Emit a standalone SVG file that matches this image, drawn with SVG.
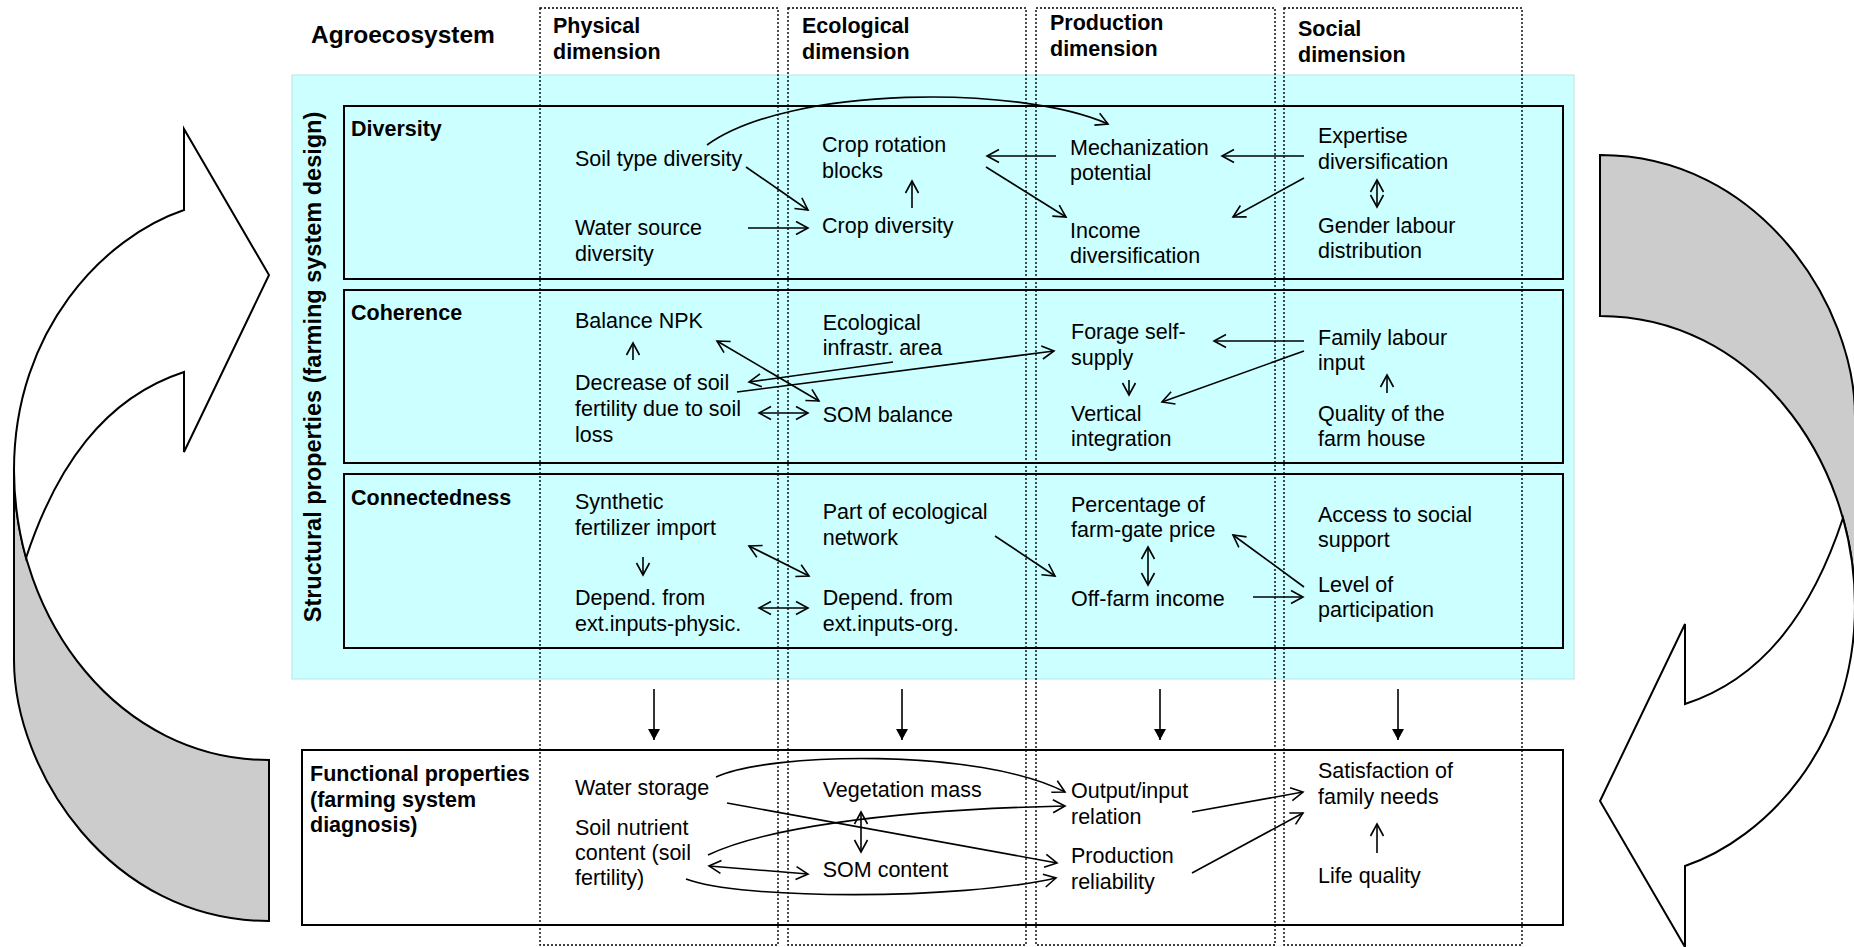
<svg xmlns="http://www.w3.org/2000/svg" width="1854" height="947" viewBox="0 0 1854 947">
<defs>
<style>
.t{font-family:"Liberation Sans",Arial,sans-serif;font-size:21.5px;fill:#000}
.b{font-family:"Liberation Sans",Arial,sans-serif;font-size:21.5px;font-weight:bold;fill:#000}
.b.title{font-size:24.5px}
.b.vert{font-size:23.5px}
.box{fill:none;stroke:#000;stroke-width:2}
.col{fill:none;stroke:#000;stroke-width:1.4;stroke-dasharray:2 2}
.c{fill:none;stroke:#000;stroke-width:1.6}
.a{marker-end:url(#open)}
.d{marker-start:url(#open);marker-end:url(#open)}
.bigarrow{stroke:#000;stroke-width:2;stroke-linejoin:miter}
</style>
<marker id="open" viewBox="-14 -9 16 18" refX="0" refY="0" markerWidth="16" markerHeight="18" markerUnits="userSpaceOnUse" orient="auto-start-reverse">
<path d="M-12,-6.5 L0,0 L-12,6.5" fill="none" stroke="#000" stroke-width="1.6"/>
</marker>
<marker id="solid" viewBox="-12 -7 13 14" refX="0" refY="0" markerWidth="13" markerHeight="14" markerUnits="userSpaceOnUse" orient="auto">
<path d="M-11,-6 L0,0 L-11,6 Z" fill="#000"/>
</marker>
</defs>
<rect width="1854" height="947" fill="#fff"/>

<g id="cycle-left">
<path class="bigarrow" fill="#CCCCCC" d="M14,470 L14,660 C14,770 109,921 269,921 L269,760 C119,760 14,620 14,470 Z"/>
<path class="bigarrow" fill="#fff" d="M184,210 L184,129 L269,275 L184,452 L184,372 C104,398 56,467 26,558 C18.2,529.6 14,500 14,470 C14,330 104,237 184,210 Z"/>
</g>
<g id="cycle-right" transform="rotate(180 934.5 538)">
<path class="bigarrow" fill="#CCCCCC" d="M14,470 L14,660 C14,770 109,921 269,921 L269,760 C119,760 14,620 14,470 Z"/>
<path class="bigarrow" fill="#fff" d="M184,210 L184,129 L269,275 L184,452 L184,372 C104,398 56,467 26,558 C18.2,529.6 14,500 14,470 C14,330 104,237 184,210 Z"/>
</g>

<g id="structural">
<rect x="292" y="75" width="1282" height="604" fill="#CCFFFF" stroke="#B5E5E5" stroke-width="1"/>
<text class="b vert" transform="translate(321 367) rotate(-90)" text-anchor="middle">Structural properties (farming system design)</text>
</g>
<g id="row-diversity">
<rect class="box" x="344" y="106" width="1219" height="173"/>
<text class="b" x="351" y="136">Diversity</text>
</g>
<g id="row-coherence">
<rect class="box" x="344" y="290" width="1219" height="173"/>
<text class="b" x="351" y="320">Coherence</text>
</g>
<g id="row-connectedness">
<rect class="box" x="344" y="474" width="1219" height="174"/>
<text class="b" x="351" y="505">Connectedness</text>
</g>
<g id="functional">
<rect class="box" x="302" y="750" width="1261" height="175"/>
<text class="b"><tspan x="310" y="781">Functional properties</tspan><tspan x="310" y="807">(farming system</tspan><tspan x="310" y="832">diagnosis)</tspan></text>
</g>

<g id="title"><text class="b title" x="311" y="43">Agroecosystem</text></g>
<g id="col-physical">
<rect class="col" x="540" y="8" width="238" height="937"/>
<text class="b"><tspan x="553" y="33">Physical</tspan><tspan x="553" y="59">dimension</tspan></text>
</g>
<g id="col-ecological">
<rect class="col" x="788" y="8" width="238" height="937"/>
<text class="b"><tspan x="802" y="33">Ecological</tspan><tspan x="802" y="59">dimension</tspan></text>
</g>
<g id="col-production">
<rect class="col" x="1036" y="8" width="239" height="937"/>
<text class="b"><tspan x="1050" y="29.5">Production</tspan><tspan x="1050" y="55.5">dimension</tspan></text>
</g>
<g id="col-social">
<rect class="col" x="1284" y="8" width="238" height="937"/>
<text class="b"><tspan x="1298" y="36">Social</tspan><tspan x="1298" y="61.5">dimension</tspan></text>
</g>

<g id="connectors">
<path class="c a" d="M707,145 C790,85 1020,85 1108,124"/>
<line class="c a" x1="746" y1="167" x2="808" y2="210"/>
<line class="c a" x1="748" y1="228" x2="808" y2="228"/>
<line class="c a" x1="912" y1="208" x2="912" y2="181"/>
<line class="c a" x1="1056" y1="156" x2="987" y2="156"/>
<line class="c a" x1="986" y1="167" x2="1066" y2="217"/>
<line class="c a" x1="1304" y1="156" x2="1222" y2="156"/>
<line class="c a" x1="1304" y1="178" x2="1233" y2="217"/>
<line class="c d" x1="1377" y1="180" x2="1377" y2="207"/>
<line class="c a" x1="633" y1="360" x2="633" y2="343"/>
<line class="c d" x1="717" y1="341" x2="819" y2="401"/>
<line class="c a" x1="893" y1="362" x2="749" y2="382"/>
<line class="c a" x1="737" y1="392" x2="1054" y2="351"/>
<line class="c d" x1="759" y1="413" x2="808" y2="413"/>
<line class="c a" x1="1304" y1="341" x2="1214" y2="341"/>
<line class="c a" x1="1304" y1="351" x2="1162" y2="402"/>
<line class="c a" x1="1129" y1="380" x2="1129" y2="395"/>
<line class="c a" x1="1387" y1="393" x2="1387" y2="375"/>
<line class="c a" x1="643" y1="557" x2="643" y2="575"/>
<line class="c d" x1="749" y1="546" x2="809" y2="576"/>
<line class="c d" x1="759" y1="608" x2="808" y2="608"/>
<line class="c a" x1="995" y1="536" x2="1055" y2="576"/>
<line class="c d" x1="1148" y1="547" x2="1148" y2="585"/>
<line class="c a" x1="1253" y1="597" x2="1303" y2="597"/>
<line class="c a" x1="1304" y1="587" x2="1233" y2="535"/>
<path class="c a" d="M716,777 C770,752 980,748 1065,792"/>
<line class="c a" x1="727" y1="803" x2="1057" y2="863"/>
<path class="c a" d="M708,855 C760,830 880,810 1065,806"/>
<line class="c d" x1="709" y1="866" x2="808" y2="874"/>
<path class="c a" d="M686,879 C740,900 960,900 1056,878"/>
<line class="c d" x1="861" y1="812" x2="861" y2="852"/>
<line class="c a" x1="1192" y1="812" x2="1303" y2="792"/>
<line class="c a" x1="1192" y1="873" x2="1303" y2="813"/>
<line class="c a" x1="1377" y1="853" x2="1377" y2="824"/>
<line class="c" x1="654" y1="689" x2="654" y2="740" marker-end="url(#solid)"/>
<line class="c" x1="902" y1="689" x2="902" y2="740" marker-end="url(#solid)"/>
<line class="c" x1="1160" y1="689" x2="1160" y2="740" marker-end="url(#solid)"/>
<line class="c" x1="1398" y1="689" x2="1398" y2="740" marker-end="url(#solid)"/>
</g>

<g id="n-soil-type"><text class="t" x="575" y="166">Soil type diversity</text></g>
<g id="n-water-source"><text class="t"><tspan x="575" y="235">Water source</tspan><tspan x="575" y="261">diversity</tspan></text></g>
<g id="n-crop-rotation"><text class="t"><tspan x="822" y="152">Crop rotation</tspan><tspan x="822" y="177.5">blocks</tspan></text></g>
<g id="n-crop-diversity"><text class="t" x="822" y="233">Crop diversity</text></g>
<g id="n-mechanization"><text class="t"><tspan x="1070" y="155">Mechanization</tspan><tspan x="1070" y="180">potential</tspan></text></g>
<g id="n-income-div"><text class="t"><tspan x="1070" y="237.5">Income</tspan><tspan x="1070" y="263">diversification</tspan></text></g>
<g id="n-expertise"><text class="t"><tspan x="1318" y="142.5">Expertise</tspan><tspan x="1318" y="168.5">diversification</tspan></text></g>
<g id="n-gender"><text class="t"><tspan x="1318" y="232.5">Gender labour</tspan><tspan x="1318" y="258">distribution</tspan></text></g>

<g id="n-balance-npk"><text class="t" x="575" y="327.5">Balance NPK</text></g>
<g id="n-decrease"><text class="t"><tspan x="575" y="390">Decrease of soil</tspan><tspan x="575" y="416">fertility due to soil</tspan><tspan x="575" y="442">loss</tspan></text></g>
<g id="n-eco-infra"><text class="t"><tspan x="822.7" y="329.5">Ecological</tspan><tspan x="822.7" y="354.5">infrastr. area</tspan></text></g>
<g id="n-som-balance"><text class="t" x="822.7" y="422">SOM balance</text></g>
<g id="n-forage"><text class="t"><tspan x="1071" y="338.5">Forage self-</tspan><tspan x="1071" y="364.5">supply</tspan></text></g>
<g id="n-vertical"><text class="t"><tspan x="1071" y="421">Vertical</tspan><tspan x="1071" y="446">integration</tspan></text></g>
<g id="n-family-labour"><text class="t"><tspan x="1318" y="345">Family labour</tspan><tspan x="1318" y="370">input</tspan></text></g>
<g id="n-quality-house"><text class="t"><tspan x="1318" y="420.5">Quality of the</tspan><tspan x="1318" y="446">farm house</tspan></text></g>

<g id="n-synthetic"><text class="t"><tspan x="575" y="509">Synthetic</tspan><tspan x="575" y="535">fertilizer import</tspan></text></g>
<g id="n-depend-phys"><text class="t"><tspan x="575" y="604.5">Depend. from</tspan><tspan x="575" y="630.5">ext.inputs-physic.</tspan></text></g>
<g id="n-eco-network"><text class="t"><tspan x="822.7" y="519">Part of ecological</tspan><tspan x="822.7" y="544.5">network</tspan></text></g>
<g id="n-depend-org"><text class="t"><tspan x="822.7" y="604.5">Depend. from</tspan><tspan x="822.7" y="630.5">ext.inputs-org.</tspan></text></g>
<g id="n-percentage"><text class="t"><tspan x="1071" y="512">Percentage of</tspan><tspan x="1071" y="537">farm-gate price</tspan></text></g>
<g id="n-off-farm"><text class="t" x="1071" y="605.5">Off-farm income</text></g>
<g id="n-access-social"><text class="t"><tspan x="1318" y="522">Access to social</tspan><tspan x="1318" y="547">support</tspan></text></g>
<g id="n-participation"><text class="t"><tspan x="1318" y="591.5">Level of</tspan><tspan x="1318" y="617">participation</tspan></text></g>

<g id="n-water-storage"><text class="t" x="575" y="795">Water storage</text></g>
<g id="n-soil-nutrient"><text class="t"><tspan x="575" y="835">Soil nutrient</tspan><tspan x="575" y="860">content (soil</tspan><tspan x="575" y="885">fertility)</tspan></text></g>
<g id="n-vegetation"><text class="t" x="822.7" y="797">Vegetation mass</text></g>
<g id="n-som-content"><text class="t" x="822.7" y="876.5">SOM content</text></g>
<g id="n-output-input"><text class="t"><tspan x="1071" y="798">Output/input</tspan><tspan x="1071" y="824">relation</tspan></text></g>
<g id="n-prod-reliability"><text class="t"><tspan x="1071" y="863">Production</tspan><tspan x="1071" y="889">reliability</tspan></text></g>
<g id="n-satisfaction"><text class="t"><tspan x="1318" y="778">Satisfaction of</tspan><tspan x="1318" y="804">family needs</tspan></text></g>
<g id="n-life-quality"><text class="t" x="1318" y="882.5">Life quality</text></g>
</svg>
